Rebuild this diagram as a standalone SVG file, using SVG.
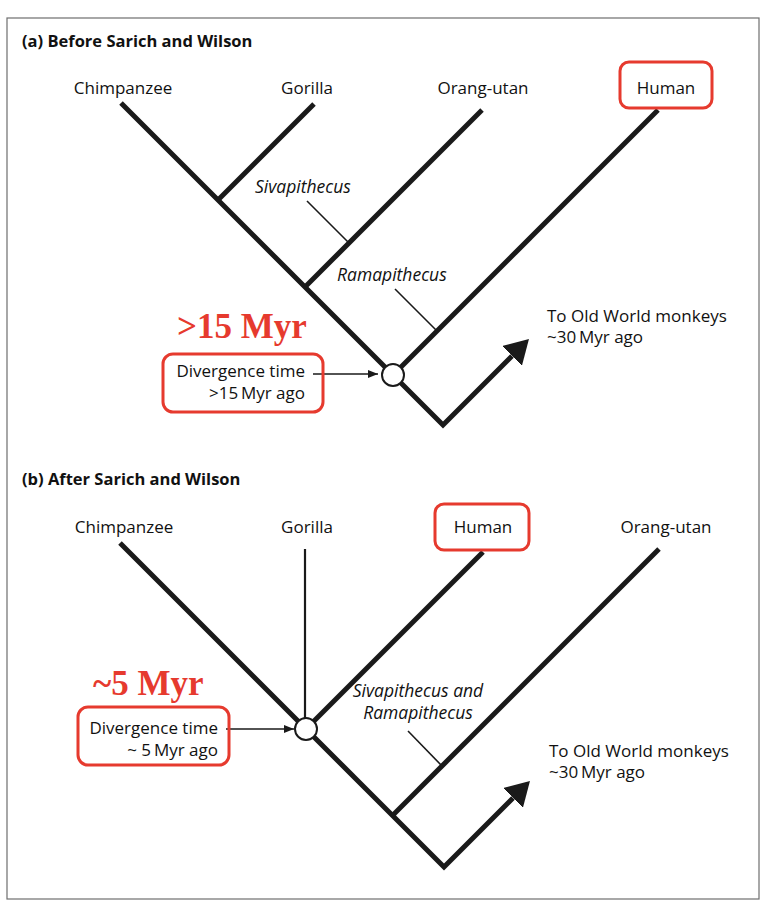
<svg xmlns="http://www.w3.org/2000/svg" width="772" height="910" viewBox="0 0 772 910">
  <defs>
    <style>
      .lbl { font-family: "Open Sans", "Noto Sans", "Liberation Sans", sans-serif; font-size: 17px; fill: #111111; }
      .mid { text-anchor: middle; }
      .end { text-anchor: end; }
      .ital { font-family: "Open Sans", "Noto Sans", "Liberation Sans", sans-serif; font-size: 17.5px; font-style: italic; fill: #111111; }
      .title { font-family: "Open Sans", "Noto Sans", "Liberation Sans", sans-serif; font-size: 16.5px; font-weight: bold; fill: #111111; }
      .big { font-family: "Liberation Serif", "DejaVu Serif", serif; font-size: 35px; font-weight: bold; fill: #e63a2e; }
      .redbox { fill: none; stroke: #e63a2e; stroke-width: 3; }
      .thick { fill: none; stroke: #1a1a1a; stroke-width: 5; stroke-linecap: butt; stroke-linejoin: miter; }
      .thin { fill: none; stroke: #1a1a1a; stroke-width: 1.6; }
      .gor { fill: none; stroke: #1a1a1a; stroke-width: 2.2; }
      .ptr { fill: none; stroke: #1a1a1a; stroke-width: 1.3; }
      .node { fill: #ffffff; stroke: #1a1a1a; stroke-width: 2; }
    </style>
    <marker id="bigArrow" viewBox="0 0 24 28" refX="0" refY="14" markerWidth="24" markerHeight="28" markerUnits="userSpaceOnUse" orient="auto">
      <path d="M0,0 L24,14 L0,28 Z" fill="#1a1a1a"/>
    </marker>
    <marker id="smallArrow" viewBox="0 0 10 8" refX="10" refY="4" markerWidth="10" markerHeight="8" markerUnits="userSpaceOnUse" orient="auto">
      <path d="M0,0 L10,4 L0,8 Z" fill="#1a1a1a"/>
    </marker>
  </defs>

  <rect x="0" y="0" width="772" height="910" fill="#ffffff"/>
  <rect id="frame" x="7" y="18" width="752" height="881" fill="none" stroke="#6e6e6e" stroke-width="1.2"/>

  <!-- Panel (a) -->
  <text id="title-a" class="title" x="22" y="47">(a) Before Sarich and Wilson</text>

  <g id="connectors-a">
    <polyline class="thick" points="121,103 443,425 512,356" marker-end="url(#bigArrow)"/>
    <line class="thick" x1="314" y1="104" x2="218" y2="200"/>
    <line class="thick" x1="482" y1="110" x2="305" y2="287"/>
    <line class="thick" x1="658" y1="110" x2="393" y2="375"/>
    <line class="thin" x1="307" y1="201" x2="349" y2="243"/>
    <line class="thin" x1="395" y1="289" x2="437" y2="331"/>
    <line class="ptr" x1="313" y1="374" x2="378" y2="374" marker-end="url(#smallArrow)"/>
  </g>

  <g id="a-chimpanzee"><text class="lbl mid" x="123" y="94">Chimpanzee</text></g>
  <g id="a-gorilla"><text class="lbl mid" x="307" y="94">Gorilla</text></g>
  <g id="a-orangutan"><text class="lbl mid" x="483" y="94">Orang-utan</text></g>
  <g id="a-human">
    <rect class="redbox" x="620" y="62" width="92" height="46" rx="9"/>
    <text class="lbl mid" x="666" y="94">Human</text>
  </g>
  <g id="a-sivapithecus"><text class="ital" x="255" y="193">Sivapithecus</text></g>
  <g id="a-ramapithecus"><text class="ital" x="337" y="281">Ramapithecus</text></g>
  <g id="a-node"><circle class="node" cx="393" cy="375" r="11"/></g>
  <g id="a-bigtime"><text class="big" x="177" y="338">&gt;15 Myr</text></g>
  <g id="a-divergence">
    <rect class="redbox" x="163" y="354" width="160" height="58" rx="10"/>
    <text class="lbl end" x="305" y="377">Divergence time</text>
    <text class="lbl end" x="305" y="399">&gt;15&#8201;Myr ago</text>
  </g>
  <g id="a-monkeys">
    <text class="lbl" x="547" y="322">To Old World monkeys</text>
    <text class="lbl" x="547" y="343">~30&#8201;Myr ago</text>
  </g>

  <!-- Panel (b) -->
  <text id="title-b" class="title" x="22" y="485">(b) After Sarich and Wilson</text>

  <g id="connectors-b">
    <polyline class="thick" points="120,543 444,867 513,798" marker-end="url(#bigArrow)"/>
    <line class="gor" x1="305" y1="549" x2="305" y2="718"/>
    <line class="thick" x1="483" y1="552" x2="306" y2="729"/>
    <line class="thick" x1="659" y1="549" x2="392" y2="816"/>
    <line class="thin" x1="408" y1="731" x2="442" y2="766"/>
    <line class="ptr" x1="226" y1="729" x2="294" y2="729" marker-end="url(#smallArrow)"/>
  </g>

  <g id="b-chimpanzee"><text class="lbl mid" x="124" y="533">Chimpanzee</text></g>
  <g id="b-gorilla"><text class="lbl mid" x="307" y="533">Gorilla</text></g>
  <g id="b-human">
    <rect class="redbox" x="435" y="504" width="94" height="46" rx="9"/>
    <text class="lbl mid" x="483" y="533">Human</text>
  </g>
  <g id="b-orangutan"><text class="lbl mid" x="666" y="533">Orang-utan</text></g>
  <g id="b-fossils">
    <text class="ital mid" x="418" y="697">Sivapithecus and</text>
    <text class="ital mid" x="418" y="719">Ramapithecus</text>
  </g>
  <g id="b-node"><circle class="node" cx="306" cy="729" r="11"/></g>
  <g id="b-bigtime"><text class="big" x="93" y="695">~5 Myr</text></g>
  <g id="b-divergence">
    <rect class="redbox" x="78" y="707" width="151" height="58" rx="10"/>
    <text class="lbl end" x="218" y="734">Divergence time</text>
    <text class="lbl end" x="218" y="756">~ 5&#8201;Myr ago</text>
  </g>
  <g id="b-monkeys">
    <text class="lbl" x="549" y="757">To Old World monkeys</text>
    <text class="lbl" x="549" y="778">~30&#8201;Myr ago</text>
  </g>
</svg>
